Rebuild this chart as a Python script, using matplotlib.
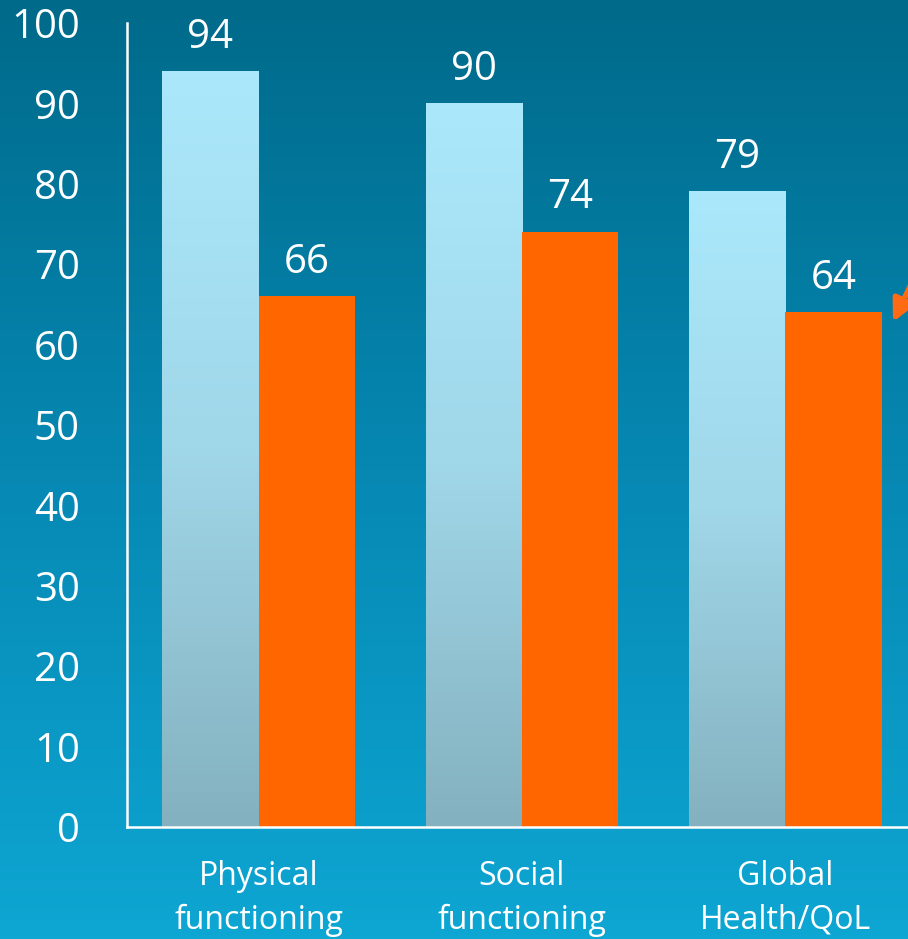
import numpy as np
import matplotlib
matplotlib.use("Agg")
from matplotlib import pyplot as plt
from matplotlib.colors import LinearSegmentedColormap

plt.rcParams['font.family'] = ['Open Sans', 'DejaVu Sans']

categories = ['Physical\nfunctioning', 'Social\nfunctioning', 'Global\nHealth/QoL']
baseline = [94, 90, 79]
followup = [66, 74, 64]

fig = plt.figure(figsize=(9.08, 9.39), dpi=100)

# background: dark teal at the top fading to bright cyan at the bottom
bg = fig.add_axes([0, 0, 1, 1])
bg_cmap = LinearSegmentedColormap.from_list('bg', ['#0ea6d3', '#0688b3', '#006a8a'])
bg.imshow(np.linspace(0, 1, 256).reshape(-1, 1)[::-1], cmap=bg_cmap,
          aspect='auto', extent=[0, 1, 0, 1])
bg.axis('off')

ax = fig.add_axes([127 / 908, 112 / 939, 790 / 908, 804 / 939])
ax.patch.set_alpha(0)

x = np.arange(len(categories))
w = 0.366
bar_cmap = LinearSegmentedColormap.from_list('bar', ['#84b1bf', '#a0d7e9', '#abe8fb'])

light = ax.bar(x - w / 2, baseline, w, color='none', zorder=2)
for rect in light:
    x0 = rect.get_x()
    h = rect.get_height()
    ax.imshow(np.linspace(0, 1, 200).reshape(-1, 1), cmap=bar_cmap, origin='lower',
              aspect='auto', extent=[x0, x0 + rect.get_width(), 0, h], zorder=2)
orange = ax.bar(x + w / 2, followup, w, color='#ff6600', zorder=2)

for rect, v in list(zip(light, baseline)) + list(zip(orange, followup)):
    ax.text(rect.get_x() + rect.get_width() / 2, v + 1.7, str(v),
            ha='center', va='bottom', color='white', fontsize=29)

ax.set_xlim(-0.5, 2.5)
ax.set_ylim(0, 100)
ax.set_yticks(range(0, 101, 10))
ax.set_xticks(x)
ax.set_xticklabels(categories, linespacing=1.4)

ax.tick_params(axis='y', length=0, pad=34, labelsize=29, labelcolor='white')
ax.tick_params(axis='x', length=0, pad=24, labelsize=23, labelcolor='white')

for side in ['top', 'right']:
    ax.spines[side].set_visible(False)
for side in ['left', 'bottom']:
    ax.spines[side].set_color('white')
    ax.spines[side].set_linewidth(1.8)

# arrow coming in from the right edge
ax.annotate('', xy=(893, 939 - 322), xycoords='figure pixels',
            xytext=(918, 939 - 270), textcoords='figure pixels',
            arrowprops=dict(arrowstyle='-|>,head_length=1.3,head_width=0.65',
                            color='#ff6a13', lw=4, shrinkA=0, shrinkB=0))

fig.savefig('out.png', dpi=100)
